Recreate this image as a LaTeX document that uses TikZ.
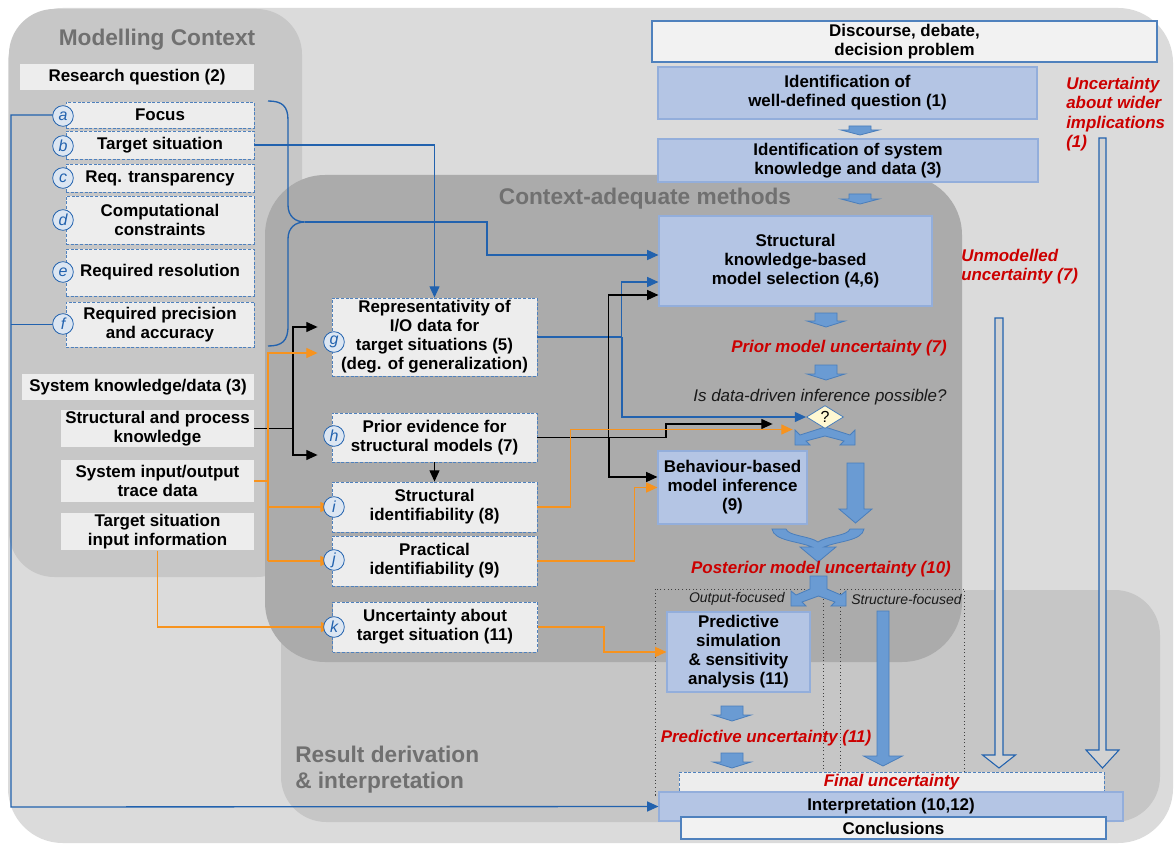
\documentclass[tikz,border=0pt]{standalone}
\usepackage{fontspec}
\setmainfont{Liberation Sans}
\usetikzlibrary{positioning,calc,shapes.geometric,arrows.meta}
\definecolor{bgouter}{HTML}{DBDBDB}
\definecolor{bgmodel}{HTML}{C7C7C7}
\definecolor{bgmeth}{HTML}{ABABAB}
\definecolor{bgres}{HTML}{C6C6C6}
\definecolor{boxgrey}{HTML}{EDEDED}
\definecolor{boxwhite}{HTML}{F2F2F2}
\definecolor{boxblue}{HTML}{B4C5E4}
\definecolor{boxblueline}{HTML}{93AEDB}
\definecolor{dashblue}{HTML}{4F81BD}
\definecolor{lineblue}{HTML}{2262AE}
\definecolor{lineorange}{HTML}{F7931E}
\definecolor{arrowfill}{HTML}{6A9BD3}
\definecolor{arrowline}{HTML}{4A7EBB}
\definecolor{hollowfill}{HTML}{D2D2D2}
\definecolor{uncred}{HTML}{CC0000}
\definecolor{titlegrey}{HTML}{707070}
\definecolor{tagfill}{HTML}{DCE6F2}
\definecolor{qfill}{HTML}{FFF8D2}
\tikzset{
txt/.style={font=\fontsize{12.7}{14.3}\selectfont\bfseries, align=center, inner sep=1pt},
greybox/.style 2 args={txt, fill=boxgrey, minimum width=#1*0.75pt, minimum height=#2*0.75pt},
dashbox/.style 2 args={greybox={#1}{#2}, draw=dashblue, line width=0.6pt, dash pattern=on 2.2pt off 1.3pt},
bluebox/.style 2 args={txt, fill=boxblue, draw=boxblueline, line width=0.8pt, minimum width=#1*0.75pt, minimum height=#2*0.75pt},
whitebox/.style 2 args={txt, fill=boxwhite, draw=dashblue, line width=0.9pt, minimum width=#1*0.75pt, minimum height=#2*0.75pt},
tag/.style={circle, draw=lineblue, fill=tagfill, line width=0.6pt, minimum size=15.5pt, inner sep=0pt, font=\fontsize{12}{12}\selectfont\itshape, text=lineblue},
unc/.style={font=\fontsize{12.7}{14.5}\selectfont\bfseries\itshape, text=uncred, inner sep=0pt},
regtitle/.style={font=\fontsize{17}{19.5}\selectfont\bfseries, text=titlegrey, inner sep=0pt},
itx/.style={font=\fontsize{12.7}{14.5}\selectfont\itshape, text=black!90, inner sep=0pt},
smallit/.style={font=\fontsize{10.5}{12}\selectfont\itshape, text=black!90, inner sep=0pt},
blkshape/.style={draw=arrowline, fill=arrowfill, line width=0.6pt},
hollow/.style={draw=lineblue, fill=hollowfill, line width=0.8pt},
bline/.style={draw=lineblue, line width=1pt},
oline/.style={draw=lineorange, line width=1pt},
kline/.style={draw=black, line width=1pt},
dotbox/.style={draw=black!75, dotted, line width=0.7pt}
}
% block arrow pointing down: [style]{x}{top}{tip}{shaft width}{head width}{head length}
\newcommand{\DownBlk}[7][blkshape]{%
  \filldraw[#1] ({#2-#5/2},#3) -- ({#2+#5/2},#3) -- ({#2+#5/2},{#4-#7}) -- ({#2+#6/2},{#4-#7})
    -- (#2,#4) -- ({#2-#6/2},{#4-#7}) -- ({#2-#5/2},{#4-#7}) -- cycle;}
\begin{document}
\begin{tikzpicture}[x=0.75pt,y=-0.75pt,>={Triangle[length=8.5pt,width=7.5pt]}]
\useasboundingbox (0,0) rectangle (1175,845);
\fill[white] (0,0) rectangle (1175,845);

% regions
\fill[bgouter,rounded corners=41pt] (8,8) rectangle (1173,843);
\fill[bgmodel,rounded corners=34pt] (9,9) rectangle (302,577);
\fill[bgres,rounded corners=34pt] (281,590) rectangle (1160,822);
\fill[bgmeth,rounded corners=45pt] (265,175) rectangle (962,662);

\node[regtitle] (ttlModel) at (157,40) {Modelling Context};
\node[regtitle] (ttlMeth) at (645,199) {Context-adequate methods};
\node[regtitle, anchor=west, align=left] (ttlRes) at (295,770) {Result derivation\\\& interpretation};

\draw[dotbox] (655,589) rectangle (823,795);
\draw[dotbox] (840,589) rectangle (964,795);

% modelling context
\node[greybox={234}{26}] (RQ) at (137,77) {Research question (2)};
\node[dashbox={188}{26}] (Focus) at (160,115) {Focus};
\node[dashbox={188}{28}] (TargetSit) at (160,145) {Target situation};
\node[dashbox={188}{28}] (ReqTrans) at (160,178) {Req. transparency};
\node[dashbox={188}{48}] (CompCon) at (160,220) {Computational\\constraints};
\node[dashbox={188}{47}] (ReqRes) at (160,272.5) {Required resolution};
\node[dashbox={188}{45}] (ReqPrec) at (160,324.5) {Required precision\\and accuracy};

\node[greybox={232}{26}] (SysKD) at (138,387) {System knowledge/data (3)};
\node[greybox={193}{37}] (StrucKn) at (157.5,428.5) {Structural and process\\knowledge};
\node[greybox={193}{42}] (IOData) at (157.5,481) {System input/output\\trace data};
\node[greybox={193}{33}] (TSInput) at (157.5,531.5) {Target situation\\input information};

% methods
\node[dashbox={205}{78}] (Repr) at (434.5,337) {Representativity of\\I/O data for\\target situations (5)\\(deg. of generalization)};
\node[dashbox={205}{49}] (PriorEv) at (434.5,437.5) {Prior evidence for\\structural models (7)};
\node[dashbox={205}{50}] (StrucId) at (434.5,507) {Structural\\identifiability (8)};
\node[dashbox={205}{50}] (PractId) at (434.5,561) {Practical\\identifiability (9)};
\node[dashbox={205}{50}] (UncTS) at (435,627) {Uncertainty about\\target situation (11)};

\node[whitebox={505}{41}] (Disc) at (904.5,41.5) {Discourse, debate,\\decision problem};
\node[bluebox={379}{52}] (IdQ) at (847.5,93) {Identification of\\well-defined question (1)};
\node[bluebox={380}{43}] (IdSK) at (848,160.5) {Identification of system\\knowledge and data (3)};
\node[bluebox={273}{90}] (ModSel) at (795.5,261) {Structural\\knowledge-based\\model selection (4,6)};
\node[bluebox={149}{73}] (BehInf) at (732.5,487.5) {Behaviour-based\\model inference\\(9)};
\node[bluebox={143}{80}] (PredSim) at (738.5,652) {Predictive\\simulation\\\& sensitivity\\analysis (11)};
\node[dashbox={425}{21}, font=\fontsize{12.7}{14.3}\selectfont\bfseries\itshape, text=uncred] (FinUnc) at (891.5,782.5) {Final uncertainty};
\node[bluebox={464}{29}] (Interp) at (891,806.5) {Interpretation (10,12)};
\node[whitebox={425}{22}] (Concl) at (893.5,828) {Conclusions};

% decision diamond with its split arrow
\filldraw[blkshape] (825,427) -- (800,435) -- (795,430) -- (795,445) -- (810,445) -- (806,441) -- (825,436)
  -- (844,441) -- (840,445) -- (855,445) -- (855,430) -- (850,435) -- cycle;
\node[diamond, aspect=1.6, draw=arrowline, fill=qfill, line width=0.6pt, minimum width=37*0.75pt, minimum height=23*0.75pt,
  inner sep=0pt, font=\fontsize{12}{12}\selectfont] (DataQ) at (825,417) {?};

% connectors
\coordinate (lx) at (11,807);
\coordinate (kx) at (293,0);
\coordinate (ox) at (268,0);
\coordinate (bx) at (622,0);
\coordinate (hx) at (609,0);
\draw[bline,->] (Focus.west) -| (lx) -- (Interp.west);
\draw[bline] (ReqPrec.west) -- (ReqPrec.west -| lx);
\draw[bline] (268,101) .. controls (282,101) and (288,106) .. (288,120) -- (288,205)
  .. controls (288,216) and (295,222) .. (305,222) coordinate (braceTip)
  .. controls (295,222) and (288,228) .. (288,239) -- (288,326)
  .. controls (288,341) and (282,346) .. (268,346);
\draw[bline,->] (braceTip) -- (487,222) |- ($(ModSel.west)+(0,-6)$);
\draw[bline,->] (TargetSit.east) -| (Repr.north);

\draw[kline] (StrucKn.east) -- (StrucKn.east -| kx);
\draw[kline,<->] ($(Repr.west)+(-14,-10)$) -| (293,455) -- ($(PriorEv.west)+(-14,17.5)$);
\draw[oline] (IOData.east) -- (IOData.east -| ox);
\draw[oline,->] (ox |- PractId.west) |- ($(Repr.west)+(-14,16)$);
\draw[oline,->] (ox |- StrucId.west) -- (StrucId.west);
\draw[oline,->] (ox |- PractId.west) -- (PractId.west);
\draw[oline,->] (TSInput.south) |- (UncTS.west);

\draw[kline,->] (PriorEv.south) -- (StrucId.north);
\draw[bline,->] (Repr.east) -| ($(ModSel.west)+(-37,21)$) -- ($(ModSel.west)+(0,21)$);
\draw[bline,->] (bx |- Repr.east) |- (DataQ.west);
\draw[kline,->] (PriorEv.east) -| ($(ModSel.west)+(-50,34)$) -- ($(ModSel.west)+(0,34)$);
\draw[kline,->] (hx |- PriorEv.east) |- ($(BehInf.west)+(0,-10.5)$);
\draw[kline,->] (PriorEv.east) -- (666,437.5) |- ($(DataQ.west)+(-33.5,7)$);
\draw[oline,->] (StrucId.east) -- ++(33,0) |- ($(DataQ.west)+(-13.5,12.5)$);
\draw[oline,->] (PractId.east) -- ++(97,0) |- (BehInf.west);
\draw[oline,->] (UncTS.east) -- ++(66,0) |- (PredSim.west);

% tags
\node[tag] (tagA) at (63,116) {a};
\node[tag] (tagB) at (63,146) {b};
\node[tag] (tagC) at (63,178) {c};
\node[tag] (tagD) at (63,220) {d};
\node[tag] (tagE) at (63,272) {e};
\node[tag] (tagF) at (63,324) {f};
\node[tag] (tagG) at (334,342) {g};
\node[tag] (tagH) at (334,436) {h};
\node[tag] (tagI) at (334,507) {i};
\node[tag] (tagJ) at (334,560) {j};
\node[tag] (tagK) at (334,627) {k};

% block arrows
\DownBlk{860}{126}{135}{22}{38}{5}
\DownBlk{860}{194}{204}{22}{38}{5}
\DownBlk{826}{313}{327}{22}{38}{6}
\DownBlk{826}{365}{380}{22}{38}{6}
\DownBlk{732}{706}{721}{22}{38}{6}
\DownBlk{732}{753}{768}{22}{38}{6}
\DownBlk{855.5}{463}{523}{17}{33}{14}
\DownBlk{883}{611}{766}{12}{39}{10}
\DownBlk[hollow]{999}{318}{768}{8}{33}{13}
\DownBlk[hollow]{1102.5}{138}{768}{7}{33}{18}

\filldraw[blkshape] (772,529) .. controls (774,541) and (798,541) .. (812,547) -- (800,547) -- (818,562)
  -- (836,547) -- (824,547) .. controls (838,541) and (862,541) .. (864,529) -- (850,529)
  .. controls (848,536) and (826,536) .. (818,542) .. controls (810,536) and (788,536) .. (786,529) -- cycle;
\filldraw[blkshape] (810,576) -- (827,576) -- (827,589) -- (841,595) -- (846,591) -- (846,606) -- (831,606)
  -- (835,602) -- (818.5,596) -- (802,602) -- (806,606) -- (791,606) -- (791,591) -- (796,595) -- (810,589) -- cycle;

% uncertainty labels
\node[unc, anchor=west, align=left] (uncWider) at (1066,114) {Uncertainty\\about wider\\implications\\(1)};
\node[unc, anchor=west, align=left] (uncUnmod) at (961,266.5) {Unmodelled\\uncertainty (7)};
\node[unc] (uncPrior) at (839,348) {Prior model uncertainty (7)};
\node[itx] (qData) at (820,397) {Is data-driven inference possible?};
\node[unc] (uncPost) at (821,569) {Posterior model uncertainty (10)};
\node[smallit, anchor=east] (lblOut) at (785,599) {Output-focused};
\node[smallit, anchor=west] (lblStruc) at (851,599) {Structure-focused};
\node[unc] (uncPred) at (766,738) {Predictive uncertainty (11)};

\end{tikzpicture}
\end{document}
